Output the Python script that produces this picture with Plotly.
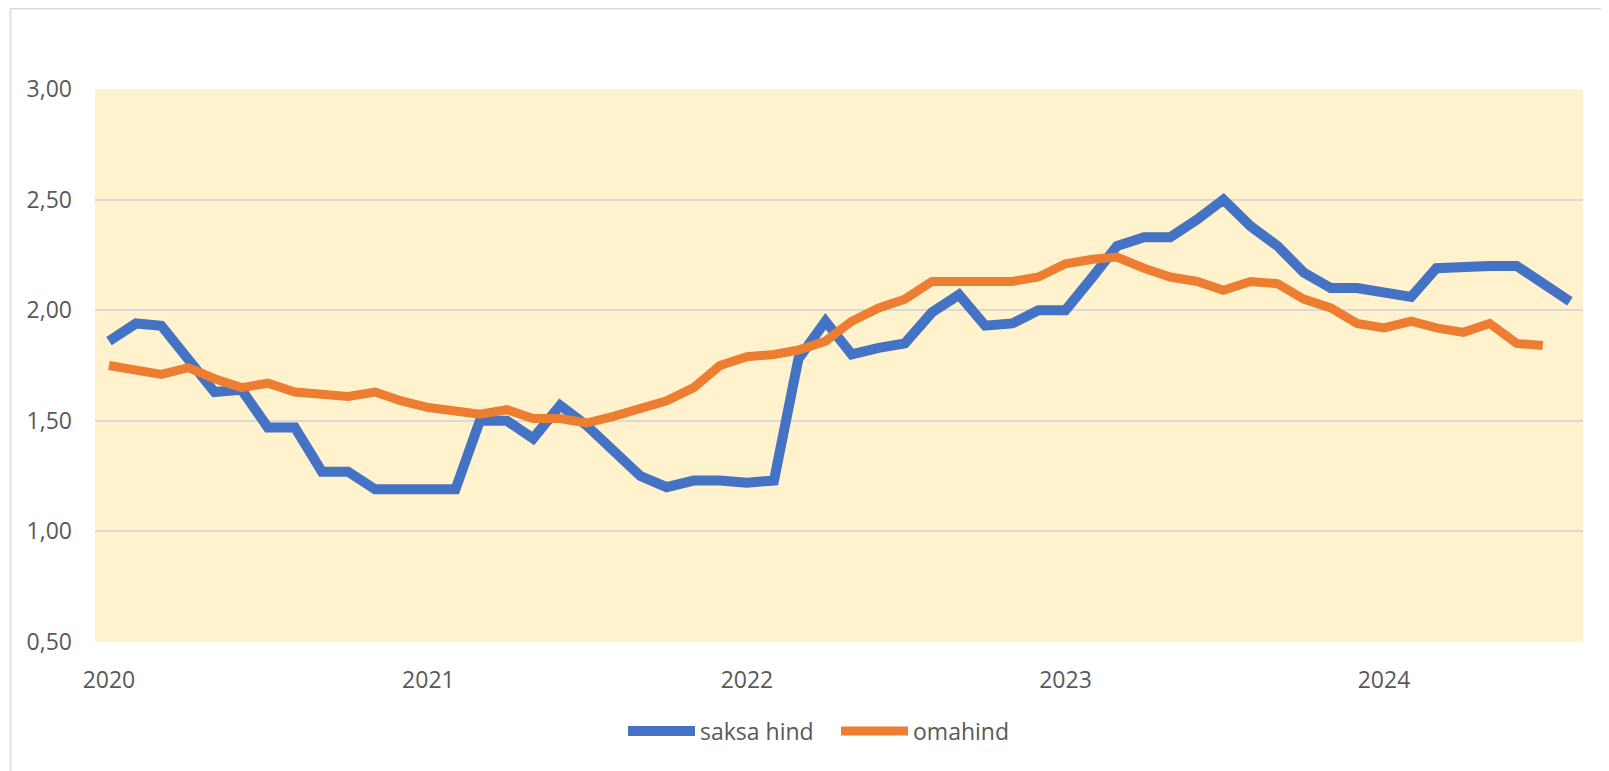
import pandas as pd
import plotly.graph_objects as go

# kuised hinnad, jaanuar 2020 - august 2024
months = pd.date_range("2020-01-01", periods=56, freq="MS")

saksa_hind = [
    1.86, 1.94, 1.93, 1.78, 1.63, 1.64, 1.47, 1.47, 1.27, 1.27, 1.19, 1.19,
    1.19, 1.19, 1.50, 1.50, 1.42, 1.57, 1.48, 1.37, 1.25, 1.20, 1.23, 1.23,
    1.22, 1.23, 1.78, 1.95, 1.80, 1.83, 1.85, 1.99, 2.07, 1.93, 1.94, 2.00,
    2.00, 2.15, 2.29, 2.33, 2.33, 2.41, 2.50, 2.38, 2.29, 2.17, 2.10, 2.10,
    2.08, 2.06, 2.19, 2.20, 2.20, 2.20, 2.12, 2.04,
]

omahind = [
    1.75, 1.73, 1.71, 1.74, 1.69, 1.65, 1.67, 1.63, 1.62, 1.61, 1.63, 1.59,
    1.56, 1.54, 1.53, 1.55, 1.51, 1.51, 1.49, 1.52, 1.56, 1.59, 1.65, 1.75,
    1.79, 1.80, 1.82, 1.86, 1.95, 2.01, 2.05, 2.13, 2.13, 2.13, 2.13, 2.15,
    2.21, 2.23, 2.24, 2.19, 2.15, 2.13, 2.09, 2.13, 2.12, 2.05, 2.01, 1.94,
    1.92, 1.95, 1.92, 1.90, 1.94, 1.85, 1.84,
]

y_ticks = [0.5, 1.0, 1.5, 2.0, 2.5, 3.0]
y_labels = ["0,50", "1,00", "1,50", "2,00", "2,50", "3,00"]

BLUE = "#4472C4"
ORANGE = "#ED7D31"
GRID = "#D9D9D9"
TEXT = "#595959"

# lehe body-l on 8px serv, seega joonis on 8px võrra väiksem
W, H = 1601, 763
L, T, R, B = 87, 81, 26, 129
plot_w = W - L - R
plot_h = H - T - B

fig = go.Figure()
fig.add_trace(go.Scatter(
    x=months, y=saksa_hind, name="saksa hind", mode="lines",
    line=dict(color=BLUE, width=10),
))
fig.add_trace(go.Scatter(
    x=months[:len(omahind)], y=omahind, name="omahind", mode="lines",
    line=dict(color=ORANGE, width=9),
))

fig.update_layout(
    width=W,
    height=H,
    margin=dict(l=L, r=R, t=T, b=B),
    paper_bgcolor="white",
    plot_bgcolor="#FFF2CC",
    font=dict(family="Open Sans, sans-serif", size=23, color=TEXT),
    showlegend=True,
    legend=dict(
        orientation="h", x=0.498, xanchor="center", y=-0.161, yanchor="middle",
        font=dict(size=23, color=TEXT), itemwidth=67,
        entrywidth=131, entrywidthmode="pixels",
    ),
    xaxis=dict(
        range=["2019-12-16", "2024-08-16"],
        tickformat="%Y", dtick="M12", tick0="2020-01-01",
        showgrid=False, zeroline=False, showline=False,
        ticklabelstandoff=22,
    ),
    yaxis=dict(
        range=[0.5, 3.0], tickvals=y_ticks, ticktext=y_labels,
        showgrid=True, gridcolor=GRID, gridwidth=1.5,
        zeroline=False, showline=False, ticklabelstandoff=22,
    ),
    shapes=[
        # raam ümber diagrammi
        dict(type="rect", xref="paper", yref="paper",
             x0=-(L - 2.5) / plot_w, x1=1.05,
             y0=-0.4, y1=(plot_h + T - 0.5) / plot_h,
             line=dict(color=GRID, width=1.5), layer="below"),
    ],
)

fig.write_html("out.html")
